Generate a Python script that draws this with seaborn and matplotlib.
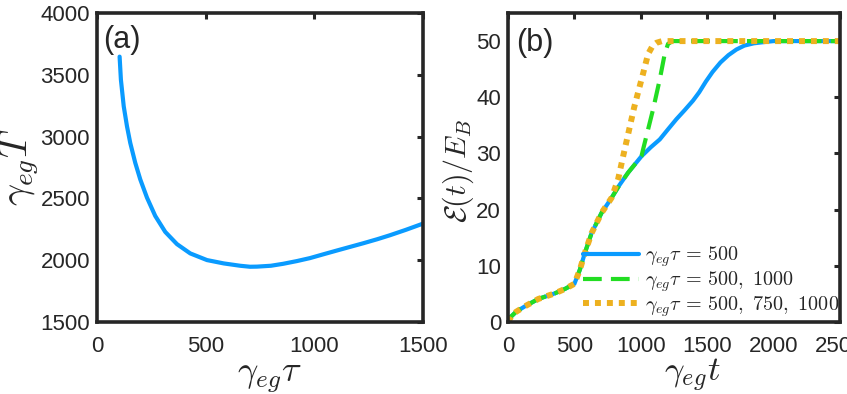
import numpy as np
import pandas as pd
import matplotlib
matplotlib.use("Agg")
import matplotlib.pyplot as plt
import seaborn as sns

# ---- data ----
tau_a = [104, 110, 123, 138, 153, 176, 199, 230, 268, 314, 368, 429, 506, 583, 659, 704, 736,
         800, 857, 920, 980, 1040, 1103, 1165, 1225, 1290, 1348, 1420, 1500]
T_a = [3647, 3460, 3245, 3083, 2949, 2788, 2654, 2506, 2358, 2229, 2130, 2055, 2001, 1974, 1955, 1947, 1948,
       1955, 1971, 1993, 2017, 2047, 2078, 2108, 2137, 2170, 2202, 2245, 2296]

t_b1 = [0, 25, 60, 128, 228, 353, 430, 500, 541, 579, 629, 704, 780, 840, 905, 1005, 1075, 1143, 1205,
        1268, 1330, 1393, 1440, 1490, 1540, 1600, 1660, 1720, 1780, 1850, 1920, 2000, 2200, 2500]
E_b1 = [0, 1.0, 1.8, 2.8, 4.1, 5.1, 5.9, 6.8, 9.3, 12.3, 15.8, 19.4, 22.1, 24.4, 26.6, 29.5, 31.1, 32.5, 34.3,
        36.1, 37.7, 39.4, 40.9, 42.8, 44.5, 46.2, 47.5, 48.5, 49.2, 49.6, 49.8, 50, 50, 50]

t_b2 = [0, 25, 60, 128, 228, 353, 430, 500, 541, 579, 629, 704, 780, 840, 905, 1005, 1017, 1093, 1143,
        1180, 1205, 1240, 1500, 2000, 2500]
E_b2 = [0, 1.0, 1.8, 2.8, 4.1, 5.1, 5.9, 6.8, 9.3, 12.3, 15.8, 19.4, 22.1, 24.4, 26.6, 29.5, 30.7, 37.9, 43.2,
        47.7, 49.5, 50, 50, 50, 50]

t_b3 = [0, 25, 60, 128, 228, 353, 430, 500, 541, 579, 629, 704, 780, 829, 867, 910, 950, 1000, 1017,
        1055, 1090, 1118, 1160, 1500, 2000, 2500]
E_b3 = [0, 1.0, 1.8, 2.8, 4.1, 5.1, 5.9, 6.8, 9.3, 12.3, 15.8, 19.4, 22.1, 25.4, 29.5, 34.0, 38.2, 42.7, 44.2,
        47.7, 49.2, 49.7, 50, 50, 50, 50]

labels_b = [r'$\gamma_{eg}\tau\,=\,500$', r'$\gamma_{eg}\tau\,=\,500,\ 1000$',
            r'$\gamma_{eg}\tau\,=\,500,\ 750,\ 1000$']

# ---- style ----
sns.set_style("white")
plt.rcParams['font.family'] = ['Liberation Sans', 'DejaVu Sans']
plt.rcParams['mathtext.fontset'] = 'cm'
plt.rcParams['axes.edgecolor'] = '#262626'
plt.rcParams['axes.linewidth'] = 2.6
plt.rcParams['xtick.direction'] = 'in'
plt.rcParams['ytick.direction'] = 'in'

c_blue = '#0A9BFF'
c_green = '#22DD22'
c_orange = '#EDB120'

fig = plt.figure(figsize=(8.47, 3.94), dpi=100)
W, H = 847, 394
ax1 = fig.add_axes([97 / W, (H - 322) / H, 326 / W, 309 / H])
ax2 = fig.add_axes([508 / W, (H - 322) / H, 332 / W, 309 / H])

dfa = pd.DataFrame({'tau': tau_a, 'T': T_a})
sns.lineplot(data=dfa, x='tau', y='T', ax=ax1, color=c_blue, lw=3.0)
ax1.set_xlim(0, 1500)
ax1.set_ylim(1500, 4000)
ax1.set_xticks([0, 500, 1000, 1500])
ax1.set_yticks([1500, 2000, 2500, 3000, 3500, 4000])
ax1.set_xlabel(r'$\gamma_{eg}\tau$', fontsize=26)
ax1.set_ylabel(r'$\gamma_{eg}T$', fontsize=28)
ax1.xaxis.label.set_va('center')
ax1.yaxis.label.set_va('center')
ax1.xaxis.set_label_coords(0.53, -0.18)
ax1.yaxis.set_label_coords(-0.236, 0.5)
ax1.text(0.018, 0.96, '(a)', transform=ax1.transAxes, fontsize=22, va='top', ha='left')

d1 = pd.DataFrame({'t': t_b1, 'E': E_b1})
d2 = pd.DataFrame({'t': t_b2, 'E': E_b2})
d3 = pd.DataFrame({'t': t_b3, 'E': E_b3})
sns.lineplot(data=d1, x='t', y='E', ax=ax2, color=c_blue, lw=3.0, label=labels_b[0])
sns.lineplot(data=d2, x='t', y='E', ax=ax2, color=c_green, lw=3.0, ls=(0, (4.5, 2.2)), label=labels_b[1])
sns.lineplot(data=d3, x='t', y='E', ax=ax2, color=c_orange, lw=4.3, ls=(0, (1, 1)), label=labels_b[2])
ax2.set_xlim(0, 2500)
ax2.set_ylim(0, 55)
ax2.set_xticks([0, 500, 1000, 1500, 2000, 2500])
ax2.set_yticks([0, 10, 20, 30, 40, 50])
ax2.set_xlabel(r'$\gamma_{eg}t$', fontsize=25)
ax2.set_ylabel(r'$\mathcal{E}(t)/E_B$', fontsize=21.5)
ax2.xaxis.label.set_va('center')
ax2.yaxis.label.set_va('center')
ax2.xaxis.set_label_coords(0.555, -0.172)
ax2.yaxis.set_label_coords(-0.15, 0.49)
ax2.text(0.024, 0.95, '(b)', transform=ax2.transAxes, fontsize=22, va='top', ha='left')
ax2.legend(loc='upper left', frameon=False, fontsize=14.5, handlelength=2.8,
           handletextpad=0.3, labelspacing=0.0, borderaxespad=0, borderpad=0,
           bbox_to_anchor=(0.226, 0.25))

for ax in (ax1, ax2):
    ax.tick_params(axis='both', which='both', labelsize=16, length=4, width=2.2,
                   top=True, right=True, color='#262626', labelcolor='#262626')
    ax.tick_params(axis='x', pad=10)
    ax.tick_params(axis='y', pad=5)

fig.savefig('out.png', dpi=100)
